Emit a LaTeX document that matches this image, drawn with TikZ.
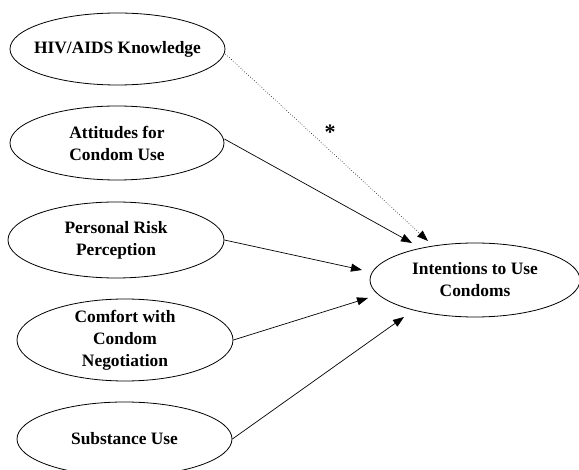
\documentclass[tikz,border=0pt]{standalone}
\usepackage{fontspec}
\setmainfont{Liberation Serif}
\usetikzlibrary{shapes.geometric,arrows.meta}
\begin{document}
\begin{tikzpicture}[x=1pt,y=-1pt,
  oval/.style={draw,ellipse,inner sep=0pt,line width=0.8pt},
  lbl/.style={align=center,inner sep=0pt,font=\bfseries\fontsize{17.4}{22}\selectfont},
  link/.style={line width=0.7pt,-{Triangle[length=11pt,width=8pt]}},
  dlink/.style={line width=0.6pt,dotted,-{Triangle[length=11pt,width=8pt]}}]
\useasboundingbox (0,0) rectangle (579,470);
\node[oval,minimum width=215pt,minimum height=72pt] (hiv) at (117.5,49) {};
\node[lbl] at (hiv.center) {HIV/AIDS Knowledge};
\node[oval,minimum width=214pt,minimum height=74pt] (att) at (117,143) {};
\node[lbl] at (att.center) {Attitudes for\\Condom Use};
\node[oval,minimum width=216pt,minimum height=76pt] (risk) at (116,240) {};
\node[lbl] at (risk.center) {Personal Risk\\Perception};
\node[oval,minimum width=216pt,minimum height=82pt] (comf) at (125,340) {};
\node[lbl] at (comf.center) {Comfort with\\Condom\\Negotiation};
\node[oval,minimum width=215pt,minimum height=74pt] (sub) at (124.5,439) {};
\node[lbl] at (sub.center) {Substance Use};
\node[oval,minimum width=210pt,minimum height=74pt] (int) at (475,280) {};
\node[lbl] at (int.center) {Intentions to Use\\Condoms};
\coordinate (t1) at (428,241);
\coordinate (t2) at (412,243);
\coordinate (t3) at (362,270);
\coordinate (t4) at (368,298);
\coordinate (t5) at (404,317);
\draw[dlink] (hiv.east) ++(0,5) -- (t1);
\draw[link] (att.east) ++(0,-4) -- (t2);
\draw[link] (risk.east) -- (t3);
\draw[link] (comf.east) -- (t4);
\draw[link] (sub.east) -- (t5);
\node[font=\bfseries\fontsize{22}{22}\selectfont,inner sep=0pt] (star) at (330,132) {*};
\end{tikzpicture}
\end{document}
